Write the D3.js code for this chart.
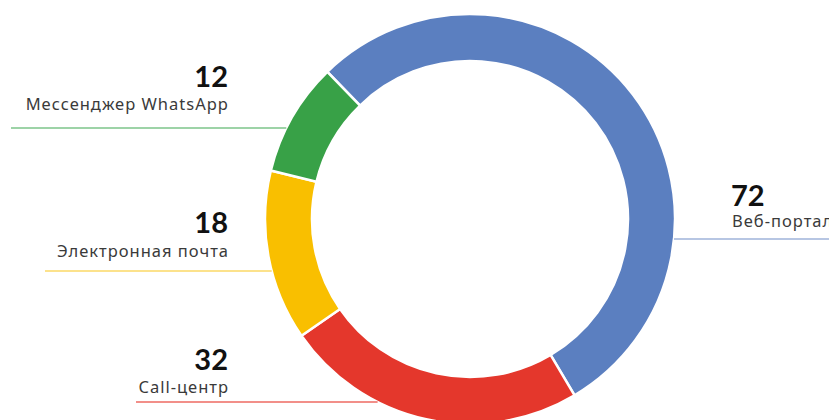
<!DOCTYPE html>
<html>
<head>
<meta charset="utf-8">
<script src="https://cdn.jsdelivr.net/npm/d3@7"></script>
<style>
  body { margin: 0; background: #fff; }
  svg { display: block; }
  .value { font-family: Lato, "Noto Sans", sans-serif; font-weight: 700; font-size: 29px; fill: #111; }
  .label { font-family: "Noto Sans", sans-serif; font-size: 16.5px; letter-spacing: 1px; fill: #3a3a3a; }
</style>
</head>
<body>
<div id="chart"></div>
<script>
// Channels and counts, clockwise from the top-left
const channels = ["Веб-портал", "Call-центр", "Электронная почта", "Мессенджер WhatsApp"];
const counts = [72, 32, 18, 12];
const colors = ["#5b7fc0", "#e4372c", "#f9bf00", "#38a147"];
const lineColors = ["#9fb3da", "#ee6a62", "#fbd866", "#7cc48a"];

const width = 829, height = 420;
const cx = 470, cy = 219;
const outerR = 205, innerR = 158;
const startAngle = -44.1 * Math.PI / 180;

// label placement: side, leader line y, baselines of value and name
const labelPos = [
  { side: "right", lineY: 239, valueY: 206, nameY: 227 },
  { side: "left", lineY: 402, x0: 136, valueY: 370, nameY: 393 },
  { side: "left", lineY: 271, x0: 45, valueY: 233, nameY: 257 },
  { side: "left", lineY: 128, x0: 11, valueY: 87, nameY: 110 }
];

const data = channels.map((name, i) => ({ name, value: counts[i], color: colors[i], line: lineColors[i], pos: labelPos[i] }));

const svg = d3.select("#chart").append("svg")
  .attr("width", width)
  .attr("height", height);

const pie = d3.pie()
  .sort(null)
  .value(d => d.value)
  .startAngle(startAngle)
  .endAngle(startAngle + 2 * Math.PI);

const arc = d3.arc().innerRadius(innerR).outerRadius(outerR);

const g = svg.append("g").attr("transform", `translate(${cx},${cy})`);

// leader lines go under the ring
const lines = svg.append("g");
data.forEach(d => {
  const dy = d.pos.lineY - cy;
  const dx = Math.sqrt(outerR * outerR - dy * dy);
  const x1 = d.pos.side === "left" ? cx - dx : cx + dx;
  const x2 = d.pos.side === "left" ? d.pos.x0 : width;
  lines.append("line")
    .attr("x1", x1).attr("x2", x2)
    .attr("y1", d.pos.lineY).attr("y2", d.pos.lineY)
    .attr("stroke", d.line)
    .attr("stroke-width", 1.5);
});

g.selectAll("path")
  .data(pie(data))
  .join("path")
  .attr("d", arc)
  .attr("fill", d => d.data.color)
  .attr("stroke", "#fff")
  .attr("stroke-width", 2.5);

// text labels
const labels = svg.append("g");
data.forEach(d => {
  const left = d.pos.side === "left";
  const anchor = left ? "end" : "start";
  labels.append("text")
    .attr("class", "value")
    .attr("x", left ? 228 : 731)
    .attr("y", d.pos.valueY)
    .attr("text-anchor", anchor)
    .text(d.value);
  labels.append("text")
    .attr("class", "label")
    .attr("x", left ? 229 : 732)
    .attr("y", d.pos.nameY)
    .attr("text-anchor", anchor)
    .text(d.name);
});
</script>
</body>
</html>
